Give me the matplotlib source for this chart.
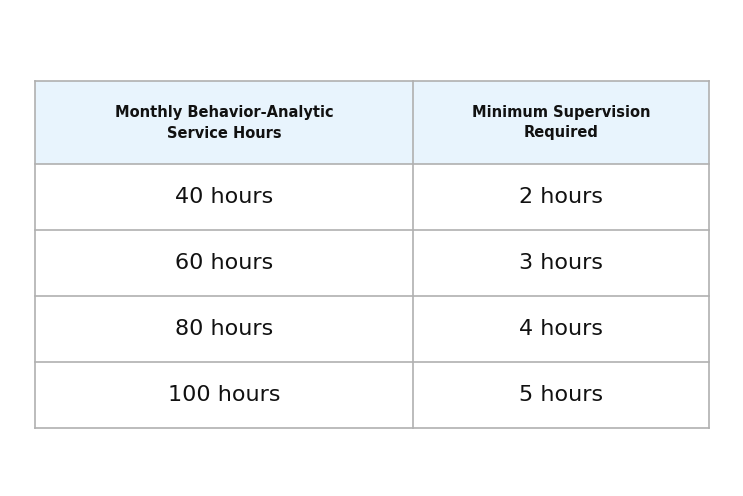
import matplotlib.pyplot as plt
from matplotlib.patches import Rectangle

headers = ["Monthly Behavior-Analytic\nService Hours", "Minimum Supervision\nRequired"]
service_hours = ["40 hours", "60 hours", "80 hours", "100 hours"]
supervision = ["2 hours", "3 hours", "4 hours", "5 hours"]

W, H = 743, 496
fig = plt.figure(figsize=(W / 100, H / 100), dpi=100)
ax = fig.add_axes([0, 0, 1, 1])
ax.set_xlim(0, W)
ax.set_ylim(H, 0)
ax.axis("off")

left, right, mid = 35, 709, 413
top, head_h, row_h = 81, 83, 66
edge = "#b0b0b0"

# header
ax.add_patch(Rectangle((left, top), right - left, head_h, facecolor="#e8f4fd", edgecolor="none"))
for i, (x0, x1) in enumerate([(left, mid), (mid, right)]):
    ax.text((x0 + x1) / 2, top + head_h / 2, headers[i], ha="center", va="center",
            fontsize=10.5, fontweight="bold", color="#111111", linespacing=1.5)

# body rows
for r, (a, b) in enumerate(zip(service_hours, supervision)):
    y0 = top + head_h + r * row_h
    ax.text((left + mid) / 2, y0 + row_h / 2, a, ha="center", va="center", fontsize=16, color="#111111")
    ax.text((mid + right) / 2, y0 + row_h / 2, b, ha="center", va="center", fontsize=16, color="#111111")

# grid lines
bottom = top + head_h + len(service_hours) * row_h
ys = [top, top + head_h] + [top + head_h + (r + 1) * row_h for r in range(len(service_hours))]
for y in ys:
    ax.plot([left, right], [y, y], color=edge, lw=1.2)
for x in [left, mid, right]:
    ax.plot([x, x], [top, bottom], color=edge, lw=1.2)

fig.savefig("out.png", dpi=100, facecolor="white")
